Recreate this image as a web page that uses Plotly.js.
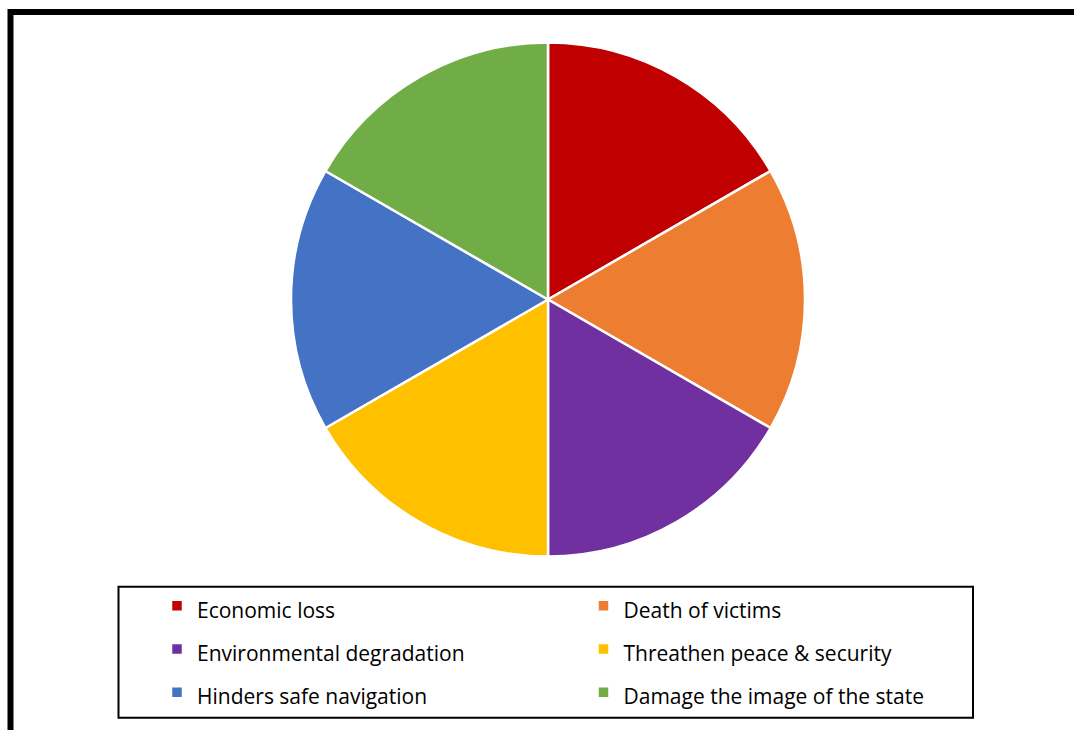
<!DOCTYPE html>
<html>
<head>
<meta charset="utf-8">
<script src="https://cdn.plot.ly/plotly-3.0.1.min.js"></script>
<style>html,body{margin:0;padding:0;background:#fff;}#chart{width:1074px;height:730px;}</style>
</head>
<body>
<div id="chart"></div>
<script>
const categories = ["Economic loss", "Death of victims", "Environmental degradation",
  "Threathen peace & security", "Hinders safe navigation", "Damage the image of the state"];
const shares = [1, 1, 1, 1, 1, 1];
const colors = ["#C00000", "#ED7D31", "#7030A0", "#FFC000", "#4472C4", "#70AD47"];

const W = 1074, H = 730;
const px = x => x / W;
const py = y => 1 - y / H;

const cx = 548, cy = 299.5, r = 257;

const trace = {
  type: "pie",
  labels: categories.map(c => '<span style="font-size:21px">' + c + '</span>'),
  values: shares,
  sort: false,
  direction: "clockwise",
  rotation: 0,
  textinfo: "none",
  hoverinfo: "none",
  marker: { colors: colors, line: { color: "#ffffff", width: 2.5 } },
  domain: { x: [px(cx - r), px(cx + r)], y: [py(cy + r), py(cy - r)] }
};

const layout = {
  width: W, height: H,
  margin: { l: 0, r: 0, t: 0, b: 0 },
  paper_bgcolor: "#ffffff",
  plot_bgcolor: "#ffffff",
  font: { family: "'Open Sans', sans-serif", color: "#000000" },
  showlegend: true,
  legend: {
    orientation: "h",
    x: px(157), xanchor: "left",
    y: py(579), yanchor: "top",
    entrywidth: 381.5, entrywidthmode: "pixels",
    itemwidth: 30,
    font: { size: 31, family: "'Open Sans', sans-serif", color: "#000000" },
    bgcolor: "rgba(0,0,0,0)",
    borderwidth: 0,
    traceorder: "normal"
  },
  shapes: [
    { type: "path", xref: "paper", yref: "paper",
      path: `M ${px(10.5)},${py(H + 20)} L ${px(10.5)},${py(12)} L ${px(W + 20)},${py(12)}`,
      line: { color: "#000000", width: 6 } },
    { type: "rect", xref: "paper", yref: "paper",
      x0: px(118.5), x1: px(973), y0: py(717.7), y1: py(586.7),
      line: { color: "#000000", width: 2 }, fillcolor: "rgba(0,0,0,0)" }
  ]
};

Plotly.newPlot("chart", [trace], layout, { displayModeBar: false, staticPlot: true });
</script>
</body>
</html>
